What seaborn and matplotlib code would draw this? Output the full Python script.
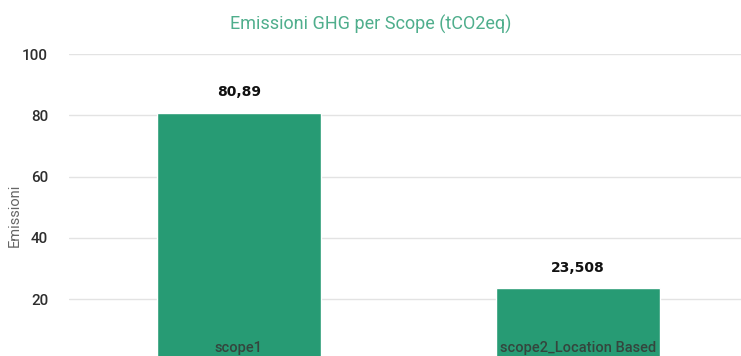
import matplotlib
matplotlib.use("Agg")
import matplotlib.pyplot as plt
import seaborn as sns
import pandas as pd

# data
categories = ["scope1", "scope2_Location Based"]
values = [80.89, 23.508]
value_labels = ["80,89", "23,508"]
yticks = [20, 40, 60, 80, 100]

BAR_GREEN = "#279b74"
TITLE_GREEN = "#4fae8c"

sns.set_theme(style="white")
plt.rcParams["font.family"] = ["DejaVu Sans Condensed", "Roboto", "DejaVu Sans"]

df = pd.DataFrame({"scope": categories, "emissioni": values})

fig = plt.figure(figsize=(7.41, 3.56), dpi=100)
# axes runs a little past the bottom edge, like the cropped reference
ax = fig.add_axes([69 / 741, -0.012, 672 / 741, 0.86])

sns.barplot(data=df, x="scope", y="emissioni", color=BAR_GREEN,
            saturation=1, width=0.483, ax=ax, zorder=2)

ax.set_ylim(0, 100)
ax.set_xlim(-0.5, 1.48)
ax.set_yticks(yticks)
ax.set_yticklabels([str(t) for t in yticks], fontsize=11, color="#2e2e2e",
                   fontweight="medium")
ax.tick_params(axis="y", length=0, pad=15)
ax.set_xticks([])
ax.set_xlabel("")
ax.set_ylabel("")
ax.grid(axis="y", color="#e3e3e3", linewidth=1, zorder=0)
for s in ax.spines.values():
    s.set_visible(False)

fig.text(15 / 741, 1 - 215 / 356, "Emissioni", rotation=90, ha="center",
         va="center", fontsize=10.5, color="#666666")

for i, (v, lab) in enumerate(zip(values, value_labels)):
    ax.text(i, v + 4.5, lab, ha="center", va="bottom", fontsize=10,
            fontweight="bold", color="#111111", family=["DejaVu Sans"])
    ax.text(i, 1.8, categories[i], ha="center", va="bottom", fontsize=10.5,
            color="#34453d", fontweight="medium")

fig.text(0.5, 1 - 24 / 356, "Emissioni GHG per Scope (tCO2eq)", ha="center",
         va="center", fontsize=13, color=TITLE_GREEN)

fig.savefig("out.png", dpi=100)
